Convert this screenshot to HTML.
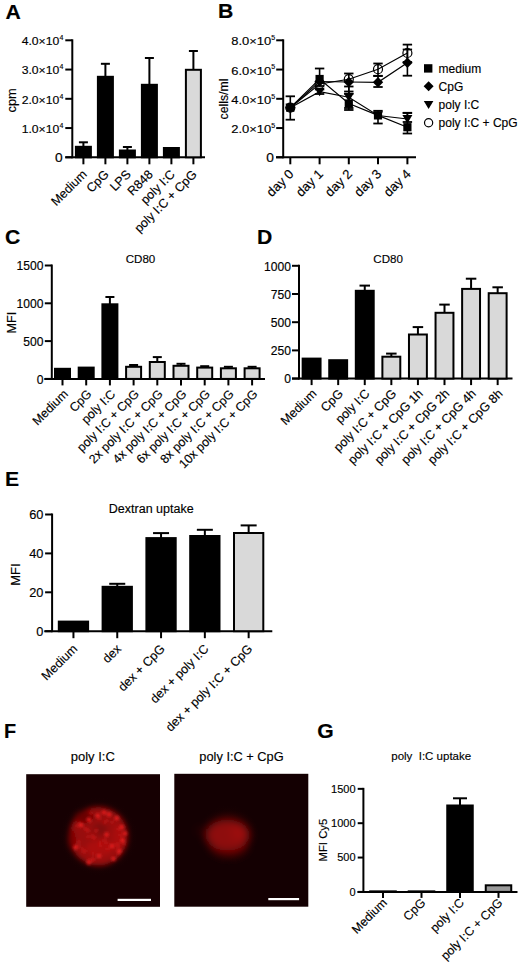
<!DOCTYPE html>
<html><head><meta charset="utf-8"><style>
html,body{margin:0;padding:0;background:#fff;}
svg{display:block;font-family:"Liberation Sans", sans-serif;}
text{stroke:#000;stroke-width:0.15px;}
</style></head><body>
<svg width="520" height="966" viewBox="0 0 520 966">
<defs>
<radialGradient id="halo1"><stop offset="0.6" stop-color="#3a0404" stop-opacity="0.9"/><stop offset="1" stop-color="#130103" stop-opacity="0"/></radialGradient>
<radialGradient id="halo2"><stop offset="0.5" stop-color="#2a0303" stop-opacity="0.8"/><stop offset="1" stop-color="#110002" stop-opacity="0"/></radialGradient>
<filter id="blur1" x="-50%" y="-50%" width="200%" height="200%"><feGaussianBlur stdDeviation="2.8"/></filter>
<filter id="blurS" x="-50%" y="-50%" width="200%" height="200%"><feGaussianBlur stdDeviation="1.7"/></filter>
<filter id="blur2" x="-50%" y="-50%" width="200%" height="200%"><feGaussianBlur stdDeviation="4.2"/></filter>
</defs>
<rect width="520" height="966" fill="#fff"/>
<text transform="translate(5.50,18.50) scale(1.06,1)" font-size="20" text-anchor="start" font-weight="bold" fill="#000" >A</text>
<line x1="72.30" y1="39.30" x2="72.30" y2="158.30" stroke="#000" stroke-width="2"/>
<line x1="65.30" y1="157.30" x2="72.30" y2="157.30" stroke="#000" stroke-width="2"/>
<line x1="65.30" y1="128.05" x2="72.30" y2="128.05" stroke="#000" stroke-width="2"/>
<line x1="65.30" y1="98.80" x2="72.30" y2="98.80" stroke="#000" stroke-width="2"/>
<line x1="65.30" y1="69.55" x2="72.30" y2="69.55" stroke="#000" stroke-width="2"/>
<line x1="65.30" y1="40.30" x2="72.30" y2="40.30" stroke="#000" stroke-width="2"/>
<line x1="65.30" y1="157.30" x2="205.00" y2="157.30" stroke="#000" stroke-width="2"/>
<text transform="translate(62.70,161.80) scale(1.1,1)" font-size="12.5" text-anchor="end" font-weight="normal" fill="#000" >0</text>
<text transform="translate(59.30,132.85) scale(1.14,1)" font-size="10.7" text-anchor="end" font-weight="normal" fill="#000" >1.0×10</text>
<text transform="translate(59.40,127.95)" font-size="7" text-anchor="start" font-weight="normal" fill="#000" >4</text>
<text transform="translate(59.30,103.60) scale(1.14,1)" font-size="10.7" text-anchor="end" font-weight="normal" fill="#000" >2.0×10</text>
<text transform="translate(59.40,98.70)" font-size="7" text-anchor="start" font-weight="normal" fill="#000" >4</text>
<text transform="translate(59.30,74.35) scale(1.14,1)" font-size="10.7" text-anchor="end" font-weight="normal" fill="#000" >3.0×10</text>
<text transform="translate(59.40,69.45)" font-size="7" text-anchor="start" font-weight="normal" fill="#000" >4</text>
<text transform="translate(59.30,45.10) scale(1.14,1)" font-size="10.7" text-anchor="end" font-weight="normal" fill="#000" >4.0×10</text>
<text transform="translate(59.40,40.20)" font-size="7" text-anchor="start" font-weight="normal" fill="#000" >4</text>
<rect x="74.90" y="145.80" width="17.00" height="12.50" fill="#000"/>
<line x1="83.40" y1="142.30" x2="83.40" y2="146.80" stroke="#000" stroke-width="2"/>
<line x1="78.90" y1="142.30" x2="87.90" y2="142.30" stroke="#000" stroke-width="2"/>
<line x1="83.40" y1="157.30" x2="83.40" y2="164.30" stroke="#000" stroke-width="2"/>
<rect x="96.90" y="75.80" width="17.00" height="82.50" fill="#000"/>
<line x1="105.40" y1="63.80" x2="105.40" y2="76.80" stroke="#000" stroke-width="2"/>
<line x1="100.90" y1="63.80" x2="109.90" y2="63.80" stroke="#000" stroke-width="2"/>
<line x1="105.40" y1="157.30" x2="105.40" y2="164.30" stroke="#000" stroke-width="2"/>
<rect x="118.90" y="149.50" width="17.00" height="8.80" fill="#000"/>
<line x1="127.40" y1="147.00" x2="127.40" y2="150.50" stroke="#000" stroke-width="2"/>
<line x1="122.90" y1="147.00" x2="131.90" y2="147.00" stroke="#000" stroke-width="2"/>
<line x1="127.40" y1="157.30" x2="127.40" y2="164.30" stroke="#000" stroke-width="2"/>
<rect x="140.90" y="83.80" width="17.00" height="74.50" fill="#000"/>
<line x1="149.40" y1="58.00" x2="149.40" y2="84.80" stroke="#000" stroke-width="2"/>
<line x1="144.90" y1="58.00" x2="153.90" y2="58.00" stroke="#000" stroke-width="2"/>
<line x1="149.40" y1="157.30" x2="149.40" y2="164.30" stroke="#000" stroke-width="2"/>
<rect x="162.90" y="147.00" width="17.00" height="11.30" fill="#000"/>
<line x1="171.40" y1="157.30" x2="171.40" y2="164.30" stroke="#000" stroke-width="2"/>
<rect x="185.90" y="69.80" width="15.00" height="87.50" fill="#d9d9d9" stroke="#000" stroke-width="2"/>
<line x1="193.40" y1="51.00" x2="193.40" y2="69.80" stroke="#000" stroke-width="2"/>
<line x1="188.90" y1="51.00" x2="197.90" y2="51.00" stroke="#000" stroke-width="2"/>
<line x1="193.40" y1="157.30" x2="193.40" y2="164.30" stroke="#000" stroke-width="2"/>
<text transform="translate(87.60,175.10) rotate(-45)" font-size="12.5" text-anchor="end" font-weight="normal" fill="#000" >Medium</text>
<text transform="translate(109.60,175.10) rotate(-45)" font-size="12.5" text-anchor="end" font-weight="normal" fill="#000" >CpG</text>
<text transform="translate(131.60,175.10) rotate(-45)" font-size="12.5" text-anchor="end" font-weight="normal" fill="#000" >LPS</text>
<text transform="translate(153.60,175.10) rotate(-45)" font-size="12.5" text-anchor="end" font-weight="normal" fill="#000" >R848</text>
<text transform="translate(175.60,175.10) rotate(-45)" font-size="12.5" text-anchor="end" font-weight="normal" fill="#000" >poly I:C</text>
<text transform="translate(197.60,175.10) rotate(-45)" font-size="12.5" text-anchor="end" font-weight="normal" fill="#000" >poly I:C + CpG</text>
<text transform="translate(15.60,100.40) rotate(-90)" font-size="12.8" text-anchor="middle" font-weight="normal" fill="#000" >cpm</text>
<text transform="translate(218.00,18.40) scale(1.06,1)" font-size="20" text-anchor="start" font-weight="bold" fill="#000" >B</text>
<line x1="283.20" y1="39.30" x2="283.20" y2="158.30" stroke="#000" stroke-width="2"/>
<line x1="276.20" y1="157.30" x2="283.20" y2="157.30" stroke="#000" stroke-width="2"/>
<line x1="276.20" y1="128.05" x2="283.20" y2="128.05" stroke="#000" stroke-width="2"/>
<line x1="276.20" y1="98.80" x2="283.20" y2="98.80" stroke="#000" stroke-width="2"/>
<line x1="276.20" y1="69.55" x2="283.20" y2="69.55" stroke="#000" stroke-width="2"/>
<line x1="276.20" y1="40.30" x2="283.20" y2="40.30" stroke="#000" stroke-width="2"/>
<line x1="276.00" y1="157.30" x2="416.00" y2="157.30" stroke="#000" stroke-width="2"/>
<text transform="translate(273.80,161.80) scale(1.1,1)" font-size="12.5" text-anchor="end" font-weight="normal" fill="#000" >0</text>
<text transform="translate(271.20,133.15) scale(1.18,1)" font-size="11" text-anchor="end" font-weight="normal" fill="#000" >2.0×10</text>
<text transform="translate(271.30,127.95)" font-size="7" text-anchor="start" font-weight="normal" fill="#000" >5</text>
<text transform="translate(271.20,103.90) scale(1.18,1)" font-size="11" text-anchor="end" font-weight="normal" fill="#000" >4.0×10</text>
<text transform="translate(271.30,98.70)" font-size="7" text-anchor="start" font-weight="normal" fill="#000" >5</text>
<text transform="translate(271.20,74.65) scale(1.18,1)" font-size="11" text-anchor="end" font-weight="normal" fill="#000" >6.0×10</text>
<text transform="translate(271.30,69.45)" font-size="7" text-anchor="start" font-weight="normal" fill="#000" >5</text>
<text transform="translate(271.20,45.40) scale(1.18,1)" font-size="11" text-anchor="end" font-weight="normal" fill="#000" >8.0×10</text>
<text transform="translate(271.30,40.20)" font-size="7" text-anchor="start" font-weight="normal" fill="#000" >5</text>
<line x1="290.30" y1="157.30" x2="290.30" y2="164.30" stroke="#000" stroke-width="2"/>
<line x1="319.60" y1="157.30" x2="319.60" y2="164.30" stroke="#000" stroke-width="2"/>
<line x1="348.80" y1="157.30" x2="348.80" y2="164.30" stroke="#000" stroke-width="2"/>
<line x1="378.00" y1="157.30" x2="378.00" y2="164.30" stroke="#000" stroke-width="2"/>
<line x1="407.40" y1="157.30" x2="407.40" y2="164.30" stroke="#000" stroke-width="2"/>
<text transform="translate(294.50,174.80) rotate(-45)" font-size="13.1" text-anchor="end" font-weight="normal" fill="#000" >day 0</text>
<text transform="translate(323.80,174.80) rotate(-45)" font-size="13.1" text-anchor="end" font-weight="normal" fill="#000" >day 1</text>
<text transform="translate(353.00,174.80) rotate(-45)" font-size="13.1" text-anchor="end" font-weight="normal" fill="#000" >day 2</text>
<text transform="translate(382.20,174.80) rotate(-45)" font-size="13.1" text-anchor="end" font-weight="normal" fill="#000" >day 3</text>
<text transform="translate(411.60,174.80) rotate(-45)" font-size="13.1" text-anchor="end" font-weight="normal" fill="#000" >day 4</text>
<text transform="translate(227.60,99.00) rotate(-90)" font-size="12.3" text-anchor="middle" font-weight="normal" fill="#000" >cells/ml</text>
<line x1="290.30" y1="96.30" x2="290.30" y2="119.70" stroke="#000" stroke-width="1.6"/>
<line x1="285.60" y1="96.30" x2="295.00" y2="96.30" stroke="#000" stroke-width="1.8"/>
<line x1="285.60" y1="119.70" x2="295.00" y2="119.70" stroke="#000" stroke-width="1.8"/>
<line x1="319.60" y1="68.50" x2="319.60" y2="86.00" stroke="#000" stroke-width="1.6"/>
<line x1="314.90" y1="68.50" x2="324.30" y2="68.50" stroke="#000" stroke-width="1.8"/>
<line x1="314.90" y1="86.00" x2="324.30" y2="86.00" stroke="#000" stroke-width="1.8"/>
<line x1="348.80" y1="73.50" x2="348.80" y2="93.80" stroke="#000" stroke-width="1.6"/>
<line x1="344.10" y1="73.50" x2="353.50" y2="73.50" stroke="#000" stroke-width="1.8"/>
<line x1="344.10" y1="93.80" x2="353.50" y2="93.80" stroke="#000" stroke-width="1.8"/>
<line x1="348.80" y1="86.50" x2="348.80" y2="110.00" stroke="#000" stroke-width="1.6"/>
<line x1="344.10" y1="86.50" x2="353.50" y2="86.50" stroke="#000" stroke-width="1.8"/>
<line x1="344.10" y1="110.00" x2="353.50" y2="110.00" stroke="#000" stroke-width="1.8"/>
<line x1="378.00" y1="63.50" x2="378.00" y2="76.00" stroke="#000" stroke-width="1.6"/>
<line x1="373.30" y1="63.50" x2="382.70" y2="63.50" stroke="#000" stroke-width="1.8"/>
<line x1="373.30" y1="76.00" x2="382.70" y2="76.00" stroke="#000" stroke-width="1.8"/>
<line x1="378.00" y1="75.80" x2="378.00" y2="87.00" stroke="#000" stroke-width="1.6"/>
<line x1="373.30" y1="75.80" x2="382.70" y2="75.80" stroke="#000" stroke-width="1.8"/>
<line x1="373.30" y1="87.00" x2="382.70" y2="87.00" stroke="#000" stroke-width="1.8"/>
<line x1="378.00" y1="110.80" x2="378.00" y2="123.50" stroke="#000" stroke-width="1.6"/>
<line x1="373.30" y1="110.80" x2="382.70" y2="110.80" stroke="#000" stroke-width="1.8"/>
<line x1="373.30" y1="123.50" x2="382.70" y2="123.50" stroke="#000" stroke-width="1.8"/>
<line x1="407.40" y1="44.60" x2="407.40" y2="62.00" stroke="#000" stroke-width="1.6"/>
<line x1="402.70" y1="44.60" x2="412.10" y2="44.60" stroke="#000" stroke-width="1.8"/>
<line x1="402.70" y1="62.00" x2="412.10" y2="62.00" stroke="#000" stroke-width="1.8"/>
<line x1="407.40" y1="49.50" x2="407.40" y2="75.70" stroke="#000" stroke-width="1.6"/>
<line x1="402.70" y1="49.50" x2="412.10" y2="49.50" stroke="#000" stroke-width="1.8"/>
<line x1="402.70" y1="75.70" x2="412.10" y2="75.70" stroke="#000" stroke-width="1.8"/>
<line x1="407.40" y1="112.80" x2="407.40" y2="133.50" stroke="#000" stroke-width="1.6"/>
<line x1="402.70" y1="112.80" x2="412.10" y2="112.80" stroke="#000" stroke-width="1.8"/>
<line x1="402.70" y1="133.50" x2="412.10" y2="133.50" stroke="#000" stroke-width="1.8"/>
<line x1="319.60" y1="89.50" x2="319.60" y2="94.00" stroke="#000" stroke-width="1.6"/>
<line x1="314.90" y1="89.50" x2="324.30" y2="89.50" stroke="#000" stroke-width="1.8"/>
<line x1="314.90" y1="94.00" x2="324.30" y2="94.00" stroke="#000" stroke-width="1.8"/>
<line x1="348.80" y1="91.50" x2="348.80" y2="108.00" stroke="#000" stroke-width="1.6"/>
<line x1="344.10" y1="91.50" x2="353.50" y2="91.50" stroke="#000" stroke-width="1.8"/>
<line x1="344.10" y1="108.00" x2="353.50" y2="108.00" stroke="#000" stroke-width="1.8"/>
<line x1="407.40" y1="113.00" x2="407.40" y2="122.00" stroke="#000" stroke-width="1.6"/>
<line x1="402.70" y1="113.00" x2="412.10" y2="113.00" stroke="#000" stroke-width="1.8"/>
<line x1="402.70" y1="122.00" x2="412.10" y2="122.00" stroke="#000" stroke-width="1.8"/>
<polyline points="290.3,107.7 319.6,79.0 348.8,103.5 378.0,115.4 407.4,127.2" fill="none" stroke="#000" stroke-width="1.15"/>
<polyline points="290.3,107.7 319.6,81.5 348.8,82.0 378.0,82.3 407.4,62.8" fill="none" stroke="#000" stroke-width="1.15"/>
<polyline points="290.3,107.7 319.6,91.7 348.8,97.3 378.0,115.5 407.4,119.0" fill="none" stroke="#000" stroke-width="1.15"/>
<polyline points="290.3,107.7 319.6,84.0 348.8,79.2 378.0,69.2 407.4,53.0" fill="none" stroke="#000" stroke-width="1.15"/>
<polygon points="285.3,103.7 295.3,103.7 290.3,112.2" fill="#000"/>
<polygon points="314.6,87.7 324.6,87.7 319.6,96.2" fill="#000"/>
<polygon points="343.8,93.3 353.8,93.3 348.8,101.8" fill="#000"/>
<polygon points="373.0,111.5 383.0,111.5 378.0,120.0" fill="#000"/>
<polygon points="402.4,115.0 412.4,115.0 407.4,123.5" fill="#000"/>
<circle cx="290.3" cy="107.7" r="4.5" fill="none" stroke="#000" stroke-width="1.2"/>
<circle cx="319.6" cy="84.0" r="4.5" fill="none" stroke="#000" stroke-width="1.2"/>
<circle cx="348.8" cy="79.2" r="4.5" fill="none" stroke="#000" stroke-width="1.2"/>
<circle cx="378.0" cy="69.2" r="4.5" fill="none" stroke="#000" stroke-width="1.2"/>
<circle cx="407.4" cy="53.0" r="4.5" fill="none" stroke="#000" stroke-width="1.2"/>
<polygon points="290.3,102.5 295.5,107.7 290.3,112.9 285.1,107.7" fill="#000"/>
<polygon points="319.6,76.3 324.8,81.5 319.6,86.7 314.40000000000003,81.5" fill="#000"/>
<polygon points="348.8,76.8 354.0,82.0 348.8,87.2 343.6,82.0" fill="#000"/>
<polygon points="378.0,77.1 383.2,82.3 378.0,87.5 372.8,82.3" fill="#000"/>
<polygon points="407.4,57.599999999999994 412.59999999999997,62.8 407.4,68.0 402.2,62.8" fill="#000"/>
<rect x="286.20" y="103.60" width="8.20" height="8.20" fill="#000"/>
<rect x="315.50" y="74.90" width="8.20" height="8.20" fill="#000"/>
<rect x="344.70" y="99.40" width="8.20" height="8.20" fill="#000"/>
<rect x="373.90" y="111.30" width="8.20" height="8.20" fill="#000"/>
<rect x="403.30" y="123.10" width="8.20" height="8.20" fill="#000"/>
<rect x="424.00" y="64.20" width="8.40" height="8.40" fill="#000"/>
<polygon points="428.6,81.3 433.6,86.3 428.6,91.3 423.6,86.3" fill="#000"/>
<polygon points="423.8,100.96 433.40000000000003,100.96 428.6,109.12" fill="#000"/>
<circle cx="428.6" cy="122.8" r="4.1" fill="#fff" stroke="#000" stroke-width="1.2"/>
<text transform="translate(438.60,72.50)" font-size="12" text-anchor="start" font-weight="normal" fill="#000" >medium</text>
<text transform="translate(438.60,90.70)" font-size="12" text-anchor="start" font-weight="normal" fill="#000" >CpG</text>
<text transform="translate(438.60,108.90)" font-size="12" text-anchor="start" font-weight="normal" fill="#000" >poly I:C</text>
<text transform="translate(438.60,127.10)" font-size="12" text-anchor="start" font-weight="normal" fill="#000" >poly I:C + CpG</text>
<text transform="translate(5.10,243.90) scale(1.06,1)" font-size="20" text-anchor="start" font-weight="bold" fill="#000" >C</text>
<text transform="translate(140.50,263.20)" font-size="11.6" text-anchor="middle" font-weight="normal" fill="#000" >CD80</text>
<line x1="51.80" y1="264.50" x2="51.80" y2="379.90" stroke="#000" stroke-width="2"/>
<line x1="44.80" y1="378.90" x2="51.80" y2="378.90" stroke="#000" stroke-width="2"/>
<line x1="44.80" y1="341.10" x2="51.80" y2="341.10" stroke="#000" stroke-width="2"/>
<line x1="44.80" y1="303.30" x2="51.80" y2="303.30" stroke="#000" stroke-width="2"/>
<line x1="44.80" y1="265.50" x2="51.80" y2="265.50" stroke="#000" stroke-width="2"/>
<line x1="44.30" y1="378.90" x2="265.00" y2="378.90" stroke="#000" stroke-width="2"/>
<text transform="translate(43.50,383.60)" font-size="12.1" text-anchor="end" font-weight="normal" fill="#000" >0</text>
<text transform="translate(43.50,345.80)" font-size="12.1" text-anchor="end" font-weight="normal" fill="#000" >500</text>
<text transform="translate(43.50,308.00)" font-size="12.1" text-anchor="end" font-weight="normal" fill="#000" >1000</text>
<text transform="translate(43.50,270.20)" font-size="12.1" text-anchor="end" font-weight="normal" fill="#000" >1500</text>
<rect x="54.00" y="367.80" width="17.00" height="12.10" fill="#000"/>
<line x1="62.50" y1="378.90" x2="62.50" y2="385.40" stroke="#000" stroke-width="2"/>
<rect x="77.70" y="366.60" width="17.00" height="13.30" fill="#000"/>
<line x1="86.20" y1="378.90" x2="86.20" y2="385.40" stroke="#000" stroke-width="2"/>
<rect x="101.40" y="303.30" width="17.00" height="76.60" fill="#000"/>
<line x1="109.90" y1="297.00" x2="109.90" y2="304.30" stroke="#000" stroke-width="2"/>
<line x1="105.40" y1="297.00" x2="114.40" y2="297.00" stroke="#000" stroke-width="2"/>
<line x1="109.90" y1="378.90" x2="109.90" y2="385.40" stroke="#000" stroke-width="2"/>
<rect x="126.10" y="366.80" width="15.00" height="12.10" fill="#d9d9d9" stroke="#000" stroke-width="2"/>
<line x1="133.60" y1="365.00" x2="133.60" y2="366.80" stroke="#000" stroke-width="2"/>
<line x1="129.10" y1="365.00" x2="138.10" y2="365.00" stroke="#000" stroke-width="2"/>
<line x1="133.60" y1="378.90" x2="133.60" y2="385.40" stroke="#000" stroke-width="2"/>
<rect x="149.80" y="362.00" width="15.00" height="16.90" fill="#d9d9d9" stroke="#000" stroke-width="2"/>
<line x1="157.30" y1="357.10" x2="157.30" y2="362.00" stroke="#000" stroke-width="2"/>
<line x1="152.80" y1="357.10" x2="161.80" y2="357.10" stroke="#000" stroke-width="2"/>
<line x1="157.30" y1="378.90" x2="157.30" y2="385.40" stroke="#000" stroke-width="2"/>
<rect x="173.50" y="365.80" width="15.00" height="13.10" fill="#d9d9d9" stroke="#000" stroke-width="2"/>
<line x1="181.00" y1="363.80" x2="181.00" y2="365.80" stroke="#000" stroke-width="2"/>
<line x1="176.50" y1="363.80" x2="185.50" y2="363.80" stroke="#000" stroke-width="2"/>
<line x1="181.00" y1="378.90" x2="181.00" y2="385.40" stroke="#000" stroke-width="2"/>
<rect x="197.20" y="367.60" width="15.00" height="11.30" fill="#d9d9d9" stroke="#000" stroke-width="2"/>
<line x1="204.70" y1="366.20" x2="204.70" y2="367.60" stroke="#000" stroke-width="2"/>
<line x1="200.20" y1="366.20" x2="209.20" y2="366.20" stroke="#000" stroke-width="2"/>
<line x1="204.70" y1="378.90" x2="204.70" y2="385.40" stroke="#000" stroke-width="2"/>
<rect x="220.90" y="368.30" width="15.00" height="10.60" fill="#d9d9d9" stroke="#000" stroke-width="2"/>
<line x1="228.40" y1="366.80" x2="228.40" y2="368.30" stroke="#000" stroke-width="2"/>
<line x1="223.90" y1="366.80" x2="232.90" y2="366.80" stroke="#000" stroke-width="2"/>
<line x1="228.40" y1="378.90" x2="228.40" y2="385.40" stroke="#000" stroke-width="2"/>
<rect x="244.60" y="368.30" width="15.00" height="10.60" fill="#d9d9d9" stroke="#000" stroke-width="2"/>
<line x1="252.10" y1="366.80" x2="252.10" y2="368.30" stroke="#000" stroke-width="2"/>
<line x1="247.60" y1="366.80" x2="256.60" y2="366.80" stroke="#000" stroke-width="2"/>
<line x1="252.10" y1="378.90" x2="252.10" y2="385.40" stroke="#000" stroke-width="2"/>
<text transform="translate(68.70,394.80) rotate(-45)" font-size="12.4" text-anchor="end" font-weight="normal" fill="#000" >Medium</text>
<text transform="translate(92.40,394.80) rotate(-45)" font-size="12.4" text-anchor="end" font-weight="normal" fill="#000" >CpG</text>
<text transform="translate(116.10,394.80) rotate(-45)" font-size="12.4" text-anchor="end" font-weight="normal" fill="#000" >poly I:C</text>
<text transform="translate(139.80,394.80) rotate(-45)" font-size="12.4" text-anchor="end" font-weight="normal" fill="#000" >poly I:C + CpG</text>
<text transform="translate(163.50,394.80) rotate(-45)" font-size="12.4" text-anchor="end" font-weight="normal" fill="#000" >2x poly I:C + CpG</text>
<text transform="translate(187.20,394.80) rotate(-45)" font-size="12.4" text-anchor="end" font-weight="normal" fill="#000" >4x poly I:C + CpG</text>
<text transform="translate(210.90,394.80) rotate(-45)" font-size="12.4" text-anchor="end" font-weight="normal" fill="#000" >6x poly I:C + CpG</text>
<text transform="translate(234.60,394.80) rotate(-45)" font-size="12.4" text-anchor="end" font-weight="normal" fill="#000" >8x poly I:C + CpG</text>
<text transform="translate(258.30,394.80) rotate(-45)" font-size="12.4" text-anchor="end" font-weight="normal" fill="#000" >10x poly I:C + CpG</text>
<text transform="translate(16.20,322.70) rotate(-90)" font-size="12.6" text-anchor="middle" font-weight="normal" fill="#000" >MFI</text>
<text transform="translate(256.90,243.90) scale(1.06,1)" font-size="20" text-anchor="start" font-weight="bold" fill="#000" >D</text>
<text transform="translate(388.20,263.20)" font-size="11.6" text-anchor="middle" font-weight="normal" fill="#000" >CD80</text>
<line x1="299.00" y1="264.80" x2="299.00" y2="379.60" stroke="#000" stroke-width="2"/>
<line x1="292.00" y1="378.60" x2="299.00" y2="378.60" stroke="#000" stroke-width="2"/>
<line x1="292.00" y1="350.40" x2="299.00" y2="350.40" stroke="#000" stroke-width="2"/>
<line x1="292.00" y1="322.20" x2="299.00" y2="322.20" stroke="#000" stroke-width="2"/>
<line x1="292.00" y1="294.00" x2="299.00" y2="294.00" stroke="#000" stroke-width="2"/>
<line x1="292.00" y1="265.80" x2="299.00" y2="265.80" stroke="#000" stroke-width="2"/>
<line x1="292.00" y1="378.60" x2="512.50" y2="378.60" stroke="#000" stroke-width="2"/>
<text transform="translate(291.00,383.30)" font-size="12.1" text-anchor="end" font-weight="normal" fill="#000" >0</text>
<text transform="translate(291.00,355.10)" font-size="12.1" text-anchor="end" font-weight="normal" fill="#000" >250</text>
<text transform="translate(291.00,326.90)" font-size="12.1" text-anchor="end" font-weight="normal" fill="#000" >500</text>
<text transform="translate(291.00,298.70)" font-size="12.1" text-anchor="end" font-weight="normal" fill="#000" >750</text>
<text transform="translate(291.00,270.50)" font-size="12.1" text-anchor="end" font-weight="normal" fill="#000" >1000</text>
<rect x="301.65" y="357.60" width="19.90" height="22.00" fill="#000"/>
<line x1="311.60" y1="378.60" x2="311.60" y2="385.10" stroke="#000" stroke-width="2"/>
<rect x="328.23" y="359.20" width="19.90" height="20.40" fill="#000"/>
<line x1="338.18" y1="378.60" x2="338.18" y2="385.10" stroke="#000" stroke-width="2"/>
<rect x="354.81" y="289.80" width="19.90" height="89.80" fill="#000"/>
<line x1="364.76" y1="285.60" x2="364.76" y2="290.80" stroke="#000" stroke-width="2"/>
<line x1="359.51" y1="285.60" x2="370.01" y2="285.60" stroke="#000" stroke-width="2"/>
<line x1="364.76" y1="378.60" x2="364.76" y2="385.10" stroke="#000" stroke-width="2"/>
<rect x="382.39" y="356.70" width="17.90" height="21.90" fill="#d9d9d9" stroke="#000" stroke-width="2"/>
<line x1="391.34" y1="353.60" x2="391.34" y2="356.70" stroke="#000" stroke-width="2"/>
<line x1="386.09" y1="353.60" x2="396.59" y2="353.60" stroke="#000" stroke-width="2"/>
<line x1="391.34" y1="378.60" x2="391.34" y2="385.10" stroke="#000" stroke-width="2"/>
<rect x="408.97" y="334.50" width="17.90" height="44.10" fill="#d9d9d9" stroke="#000" stroke-width="2"/>
<line x1="417.92" y1="327.10" x2="417.92" y2="334.50" stroke="#000" stroke-width="2"/>
<line x1="412.67" y1="327.10" x2="423.17" y2="327.10" stroke="#000" stroke-width="2"/>
<line x1="417.92" y1="378.60" x2="417.92" y2="385.10" stroke="#000" stroke-width="2"/>
<rect x="435.55" y="312.80" width="17.90" height="65.80" fill="#d9d9d9" stroke="#000" stroke-width="2"/>
<line x1="444.50" y1="304.60" x2="444.50" y2="312.80" stroke="#000" stroke-width="2"/>
<line x1="439.25" y1="304.60" x2="449.75" y2="304.60" stroke="#000" stroke-width="2"/>
<line x1="444.50" y1="378.60" x2="444.50" y2="385.10" stroke="#000" stroke-width="2"/>
<rect x="462.13" y="288.90" width="17.90" height="89.70" fill="#d9d9d9" stroke="#000" stroke-width="2"/>
<line x1="471.08" y1="278.70" x2="471.08" y2="288.90" stroke="#000" stroke-width="2"/>
<line x1="465.83" y1="278.70" x2="476.33" y2="278.70" stroke="#000" stroke-width="2"/>
<line x1="471.08" y1="378.60" x2="471.08" y2="385.10" stroke="#000" stroke-width="2"/>
<rect x="488.71" y="293.20" width="17.90" height="85.40" fill="#d9d9d9" stroke="#000" stroke-width="2"/>
<line x1="497.66" y1="287.30" x2="497.66" y2="293.20" stroke="#000" stroke-width="2"/>
<line x1="492.41" y1="287.30" x2="502.91" y2="287.30" stroke="#000" stroke-width="2"/>
<line x1="497.66" y1="378.60" x2="497.66" y2="385.10" stroke="#000" stroke-width="2"/>
<text transform="translate(317.30,394.40) rotate(-45)" font-size="12.5" text-anchor="end" font-weight="normal" fill="#000" >Medium</text>
<text transform="translate(343.88,394.40) rotate(-45)" font-size="12.5" text-anchor="end" font-weight="normal" fill="#000" >CpG</text>
<text transform="translate(370.46,394.40) rotate(-45)" font-size="12.5" text-anchor="end" font-weight="normal" fill="#000" >poly I:C</text>
<text transform="translate(397.04,394.40) rotate(-45)" font-size="12.5" text-anchor="end" font-weight="normal" fill="#000" >poly I:C + CpG</text>
<text transform="translate(423.62,394.40) rotate(-45)" font-size="12.5" text-anchor="end" font-weight="normal" fill="#000" >poly I:C + CpG 1h</text>
<text transform="translate(450.20,394.40) rotate(-45)" font-size="12.5" text-anchor="end" font-weight="normal" fill="#000" >poly I:C + CpG 2h</text>
<text transform="translate(476.78,394.40) rotate(-45)" font-size="12.5" text-anchor="end" font-weight="normal" fill="#000" >poly I:C + CpG 4h</text>
<text transform="translate(503.36,394.40) rotate(-45)" font-size="12.5" text-anchor="end" font-weight="normal" fill="#000" >poly I:C + CpG 8h</text>
<text transform="translate(5.10,486.30) scale(1.06,1)" font-size="20" text-anchor="start" font-weight="bold" fill="#000" >E</text>
<text transform="translate(151.20,512.60)" font-size="12.5" text-anchor="middle" font-weight="normal" fill="#000" >Dextran uptake</text>
<line x1="52.10" y1="513.50" x2="52.10" y2="632.20" stroke="#000" stroke-width="2"/>
<line x1="45.10" y1="631.20" x2="52.10" y2="631.20" stroke="#000" stroke-width="2"/>
<line x1="45.10" y1="592.30" x2="52.10" y2="592.30" stroke="#000" stroke-width="2"/>
<line x1="45.10" y1="553.40" x2="52.10" y2="553.40" stroke="#000" stroke-width="2"/>
<line x1="45.10" y1="514.50" x2="52.10" y2="514.50" stroke="#000" stroke-width="2"/>
<line x1="44.20" y1="631.20" x2="272.30" y2="631.20" stroke="#000" stroke-width="2"/>
<text transform="translate(43.40,636.10)" font-size="12.8" text-anchor="end" font-weight="normal" fill="#000" >0</text>
<text transform="translate(43.40,597.20)" font-size="12.8" text-anchor="end" font-weight="normal" fill="#000" >20</text>
<text transform="translate(43.40,558.30)" font-size="12.8" text-anchor="end" font-weight="normal" fill="#000" >40</text>
<text transform="translate(43.40,519.40)" font-size="12.8" text-anchor="end" font-weight="normal" fill="#000" >60</text>
<rect x="57.80" y="620.60" width="31.30" height="11.60" fill="#000"/>
<line x1="73.45" y1="631.20" x2="73.45" y2="638.20" stroke="#000" stroke-width="2"/>
<rect x="101.60" y="585.80" width="31.30" height="46.40" fill="#000"/>
<line x1="117.25" y1="583.80" x2="117.25" y2="586.80" stroke="#000" stroke-width="2"/>
<line x1="109.25" y1="583.80" x2="125.25" y2="583.80" stroke="#000" stroke-width="2"/>
<line x1="117.25" y1="631.20" x2="117.25" y2="638.20" stroke="#000" stroke-width="2"/>
<rect x="145.40" y="537.10" width="31.30" height="95.10" fill="#000"/>
<line x1="161.05" y1="533.10" x2="161.05" y2="538.10" stroke="#000" stroke-width="2"/>
<line x1="153.05" y1="533.10" x2="169.05" y2="533.10" stroke="#000" stroke-width="2"/>
<line x1="161.05" y1="631.20" x2="161.05" y2="638.20" stroke="#000" stroke-width="2"/>
<rect x="189.20" y="535.00" width="31.30" height="97.20" fill="#000"/>
<line x1="204.85" y1="529.80" x2="204.85" y2="536.00" stroke="#000" stroke-width="2"/>
<line x1="196.85" y1="529.80" x2="212.85" y2="529.80" stroke="#000" stroke-width="2"/>
<line x1="204.85" y1="631.20" x2="204.85" y2="638.20" stroke="#000" stroke-width="2"/>
<rect x="234.00" y="533.00" width="29.30" height="98.20" fill="#d9d9d9" stroke="#000" stroke-width="2"/>
<line x1="248.65" y1="525.40" x2="248.65" y2="533.00" stroke="#000" stroke-width="2"/>
<line x1="240.65" y1="525.40" x2="256.65" y2="525.40" stroke="#000" stroke-width="2"/>
<line x1="248.65" y1="631.20" x2="248.65" y2="638.20" stroke="#000" stroke-width="2"/>
<text transform="translate(78.05,649.60) rotate(-45)" font-size="12.5" text-anchor="end" font-weight="normal" fill="#000" >Medium</text>
<text transform="translate(121.85,649.60) rotate(-45)" font-size="12.5" text-anchor="end" font-weight="normal" fill="#000" >dex</text>
<text transform="translate(165.65,649.60) rotate(-45)" font-size="12.5" text-anchor="end" font-weight="normal" fill="#000" >dex + CpG</text>
<text transform="translate(209.45,649.60) rotate(-45)" font-size="12.5" text-anchor="end" font-weight="normal" fill="#000" >dex + poly I:C</text>
<text transform="translate(253.25,649.60) rotate(-45)" font-size="12.5" text-anchor="end" font-weight="normal" fill="#000" >dex + poly I:C + CpG</text>
<text transform="translate(19.80,574.60) rotate(-90)" font-size="13" text-anchor="middle" font-weight="normal" fill="#000" >MFI</text>
<text transform="translate(4.10,737.90) scale(0.98,1)" font-size="20.3" text-anchor="start" font-weight="bold" fill="#000" >F</text>
<text transform="translate(92.80,761.20)" font-size="13" text-anchor="middle" font-weight="normal" fill="#000" >poly I:C</text>
<text transform="translate(241.50,760.80)" font-size="12.8" text-anchor="middle" font-weight="normal" fill="#000" >poly I:C + CpG</text>
<rect x="26.2" y="774.2" width="133.8" height="132.6" fill="#160002"/>
<rect x="174.3" y="773.8" width="134" height="132.9" fill="#140002"/>
<circle cx="98.5" cy="836.3" r="40" fill="url(#halo1)"/>
<g filter="url(#blur1)"><circle cx="98.5" cy="836.2" r="29.2" fill="#980909"/><ellipse cx="84" cy="817" rx="10" ry="6" fill="#5a0505" opacity="0.7"/><ellipse cx="100" cy="829" rx="7" ry="6" fill="#700606" opacity="0.6"/><ellipse cx="72" cy="840" rx="4" ry="10" fill="#6a0505" opacity="0.6"/><ellipse cx="100" cy="848" rx="14" ry="8" fill="#b80c0c" opacity="0.6"/><ellipse cx="118" cy="838" rx="6" ry="14" fill="#b80c0c" opacity="0.5"/></g>
<g filter="url(#blurS)"><circle cx="107.5" cy="848.7" r="1.3" fill="#d81a1a" opacity="0.8"/><circle cx="118.1" cy="845.8" r="1.3" fill="#d81a1a" opacity="0.8"/><circle cx="85.4" cy="851.0" r="1.3" fill="#d81a1a" opacity="0.8"/><circle cx="92.0" cy="835.9" r="1.3" fill="#d81a1a" opacity="0.8"/><circle cx="93.7" cy="838.3" r="1.3" fill="#d81a1a" opacity="0.8"/><circle cx="104.5" cy="840.1" r="1.3" fill="#d81a1a" opacity="0.8"/><circle cx="106.7" cy="820.6" r="1.3" fill="#d81a1a" opacity="0.8"/><circle cx="100.1" cy="845.6" r="1.3" fill="#d81a1a" opacity="0.8"/><circle cx="118.7" cy="829.3" r="1.3" fill="#d81a1a" opacity="0.8"/><circle cx="82.2" cy="848.6" r="1.3" fill="#d81a1a" opacity="0.8"/><circle cx="124.0" cy="843.9" r="1.3" fill="#d81a1a" opacity="0.8"/><circle cx="92.3" cy="860.4" r="1.3" fill="#d81a1a" opacity="0.8"/><circle cx="106.1" cy="843.1" r="1.3" fill="#d81a1a" opacity="0.8"/><circle cx="104.6" cy="822.5" r="1.3" fill="#d81a1a" opacity="0.8"/><circle cx="88.5" cy="830.6" r="1.3" fill="#d81a1a" opacity="0.8"/><circle cx="83.5" cy="851.7" r="1.3" fill="#d81a1a" opacity="0.8"/><circle cx="116.9" cy="843.9" r="1.3" fill="#d81a1a" opacity="0.8"/><circle cx="100.3" cy="842.5" r="1.3" fill="#d81a1a" opacity="0.8"/><circle cx="78.5" cy="846.0" r="1.3" fill="#d81a1a" opacity="0.8"/><circle cx="85.5" cy="828.5" r="1.3" fill="#d81a1a" opacity="0.8"/><circle cx="92.9" cy="853.5" r="1.3" fill="#d81a1a" opacity="0.8"/><circle cx="90.9" cy="813.4" r="1.3" fill="#d81a1a" opacity="0.8"/><circle cx="86.6" cy="830.2" r="1.3" fill="#d81a1a" opacity="0.8"/><circle cx="112.3" cy="822.4" r="1.3" fill="#d81a1a" opacity="0.8"/><circle cx="93.1" cy="858.6" r="1.3" fill="#d81a1a" opacity="0.8"/><circle cx="118.2" cy="854.3" r="1.3" fill="#d81a1a" opacity="0.8"/><circle cx="99.3" cy="818.8" r="1.3" fill="#d81a1a" opacity="0.8"/><circle cx="88.0" cy="836.9" r="1.3" fill="#d81a1a" opacity="0.8"/><circle cx="95.9" cy="831.5" r="1.3" fill="#d81a1a" opacity="0.8"/><circle cx="77.3" cy="825.7" r="1.3" fill="#d81a1a" opacity="0.8"/><circle cx="88.6" cy="859.5" r="1.3" fill="#d81a1a" opacity="0.8"/><circle cx="79.8" cy="823.6" r="1.3" fill="#d81a1a" opacity="0.8"/><circle cx="78.7" cy="841.8" r="1.3" fill="#d81a1a" opacity="0.8"/><circle cx="121.8" cy="827.8" r="1.3" fill="#d81a1a" opacity="0.8"/><circle cx="89.0" cy="820.2" r="1.3" fill="#d81a1a" opacity="0.8"/><circle cx="96.5" cy="829.9" r="1.3" fill="#d81a1a" opacity="0.8"/><circle cx="120.2" cy="835.3" r="1.3" fill="#d81a1a" opacity="0.8"/><circle cx="93.2" cy="860.1" r="1.3" fill="#d81a1a" opacity="0.8"/><circle cx="90.3" cy="821.6" r="1.3" fill="#d81a1a" opacity="0.8"/><circle cx="94.6" cy="837.2" r="1.3" fill="#d81a1a" opacity="0.8"/><circle cx="109.1" cy="814.4" r="2.1" fill="#f02424"/><circle cx="116.8" cy="818.2" r="2.1" fill="#f02424"/><circle cx="121.8" cy="827.1" r="2.1" fill="#f02424"/><circle cx="125.0" cy="833.5" r="2.1" fill="#f02424"/><circle cx="122.5" cy="840.4" r="2.1" fill="#f02424"/><circle cx="119.3" cy="851.2" r="2.1" fill="#f02424"/><circle cx="113.6" cy="858.8" r="2.1" fill="#f02424"/><circle cx="106.6" cy="834.7" r="2.1" fill="#f02424"/><circle cx="81.2" cy="825.2" r="2.1" fill="#f02424"/><circle cx="88.8" cy="819.5" r="2.1" fill="#f02424"/><circle cx="97.7" cy="815.7" r="2.1" fill="#f02424"/><circle cx="104.0" cy="812.5" r="2.1" fill="#f02424"/><circle cx="88.8" cy="862.6" r="2.1" fill="#f02424"/><circle cx="75.5" cy="847.4" r="2.1" fill="#f02424"/><circle cx="112.0" cy="846.0" r="2.1" fill="#f02424"/><circle cx="99.0" cy="856.0" r="2.1" fill="#f02424"/></g>
<circle cx="228.5" cy="834.5" r="32" fill="url(#halo2)"/>
<g filter="url(#blur2)"><ellipse cx="229" cy="847" rx="18" ry="10" fill="#4a0505"/><ellipse cx="227.5" cy="835" rx="22" ry="15.5" fill="#8e0a0a"/><ellipse cx="239" cy="832" rx="8" ry="9" fill="#a30b0b" opacity="0.7"/><circle cx="200" cy="830.5" r="1.6" fill="#8a3030"/></g>
<rect x="117.60" y="898.80" width="33.40" height="2.20" fill="#fff"/>
<rect x="268.30" y="898.00" width="30.80" height="2.20" fill="#fff"/>
<text transform="translate(317.30,737.70) scale(1.06,1)" font-size="20" text-anchor="start" font-weight="bold" fill="#000" >G</text>
<text transform="translate(431.20,759.80)" font-size="11.5" text-anchor="middle" font-weight="normal" fill="#000" >poly&#160; I:C uptake</text>
<line x1="363.40" y1="787.85" x2="363.40" y2="892.90" stroke="#000" stroke-width="2"/>
<line x1="357.70" y1="891.90" x2="363.40" y2="891.90" stroke="#000" stroke-width="2"/>
<line x1="357.70" y1="857.55" x2="363.40" y2="857.55" stroke="#000" stroke-width="2"/>
<line x1="357.70" y1="823.20" x2="363.40" y2="823.20" stroke="#000" stroke-width="2"/>
<line x1="357.70" y1="788.85" x2="363.40" y2="788.85" stroke="#000" stroke-width="2"/>
<line x1="357.50" y1="891.90" x2="517.50" y2="891.90" stroke="#000" stroke-width="2"/>
<text transform="translate(355.60,895.80)" font-size="11" text-anchor="end" font-weight="normal" fill="#000" >0</text>
<text transform="translate(355.60,861.45)" font-size="11" text-anchor="end" font-weight="normal" fill="#000" >500</text>
<text transform="translate(355.60,827.10)" font-size="11" text-anchor="end" font-weight="normal" fill="#000" >1000</text>
<text transform="translate(355.60,792.75)" font-size="11" text-anchor="end" font-weight="normal" fill="#000" >1500</text>
<line x1="369.20" y1="891.10" x2="396.80" y2="891.10" stroke="#000" stroke-width="1.5"/>
<line x1="383.00" y1="891.90" x2="383.00" y2="897.90" stroke="#000" stroke-width="2"/>
<line x1="407.70" y1="891.10" x2="435.30" y2="891.10" stroke="#000" stroke-width="1.5"/>
<line x1="421.50" y1="891.90" x2="421.50" y2="897.90" stroke="#000" stroke-width="2"/>
<rect x="446.25" y="804.50" width="27.50" height="88.40" fill="#000"/>
<line x1="460.00" y1="798.30" x2="460.00" y2="805.50" stroke="#000" stroke-width="2"/>
<line x1="453.00" y1="798.30" x2="467.00" y2="798.30" stroke="#000" stroke-width="2"/>
<line x1="460.00" y1="891.90" x2="460.00" y2="897.90" stroke="#000" stroke-width="2"/>
<rect x="485.75" y="885.30" width="25.50" height="6.60" fill="#9a9a9a" stroke="#000" stroke-width="2"/>
<line x1="498.50" y1="891.90" x2="498.50" y2="897.90" stroke="#000" stroke-width="2"/>
<text transform="translate(387.70,903.50) rotate(-45)" font-size="12.3" text-anchor="end" font-weight="normal" fill="#000" >Medium</text>
<text transform="translate(426.20,903.50) rotate(-45)" font-size="12.3" text-anchor="end" font-weight="normal" fill="#000" >CpG</text>
<text transform="translate(464.70,903.50) rotate(-45)" font-size="12.3" text-anchor="end" font-weight="normal" fill="#000" >poly I:C</text>
<text transform="translate(503.20,903.50) rotate(-45)" font-size="12.3" text-anchor="end" font-weight="normal" fill="#000" >poly I:C + CpG</text>
<text transform="translate(326.60,840.10) rotate(-90)" font-size="11.3" text-anchor="middle" font-weight="normal" fill="#000" >MFI Cy5</text>
</svg>
</body></html>
